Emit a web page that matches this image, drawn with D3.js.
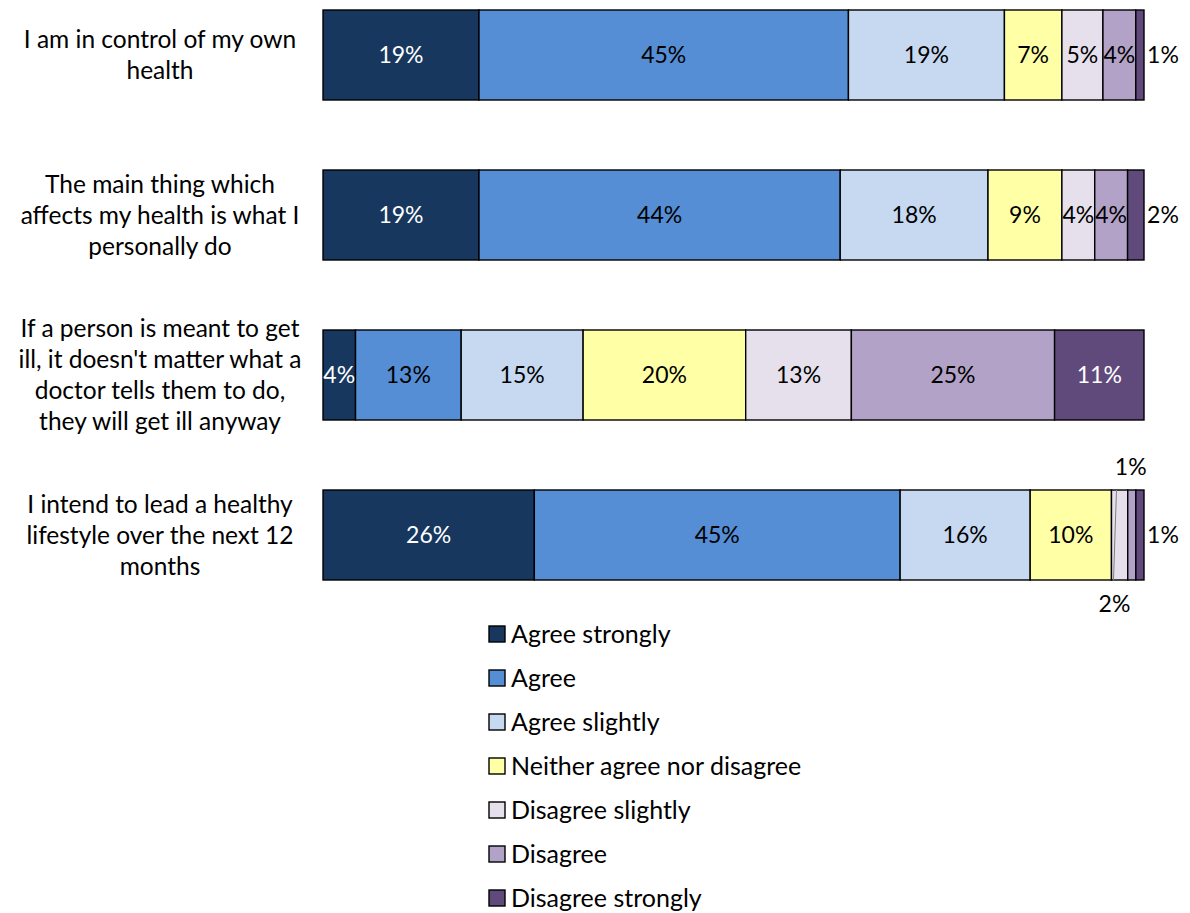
<!DOCTYPE html>
<html>
<head>
<meta charset="utf-8">
<script src="https://cdn.jsdelivr.net/npm/d3@7"></script>
<style>
  html, body { margin: 0; padding: 0; background: #fff; }
  svg { display: block; font-family: Lato, "Open Sans", sans-serif; }
</style>
</head>
<body>
<svg id="chart" width="1190" height="913"></svg>
<script>
// Survey statements (one horizontal bar each)
const statements = [
  ["I am in control of my own", "health"],
  ["The main thing which", "affects my health is what I", "personally do"],
  ["If a person is meant to get", "ill, it doesn't matter what a", "doctor tells them to do,", "they will get ill anyway"],
  ["I intend to lead a healthy", "lifestyle over the next 12", "months"]
];

// Response categories, in stacking order
const responses = ["Agree strongly", "Agree", "Agree slightly", "Neither agree nor disagree",
                   "Disagree slightly", "Disagree", "Disagree strongly"];
const responseColors = ["#17375E", "#558ED5", "#C6D9F1", "#FFFFA6", "#E6E0EC", "#B3A2C7", "#604A7B"];
const whiteText = ["Agree strongly", "Disagree strongly"];

// Percentages per statement, one value per response category
const controlOwnHealth   = [19, 45, 19, 7, 5, 4, 1];
const whatIPersonallyDo  = [19, 44, 18, 9, 4, 4, 2];
const meantToGetIll      = [4, 13, 15, 20, 13, 25, 11];
const healthyLifestyle   = [26, 45, 16, 10, 2, 1, 1];
const rows = [controlOwnHealth, whatIPersonallyDo, meantToGetIll, healthyLifestyle];

const svg = d3.select("#chart");
const plot = { left: 323, right: 1144, top: 10, step: 160, barH: 90 };

// 100% stacked: each row is scaled to its own total
const x = d3.scaleLinear().domain([0, 100]).range([plot.left, plot.right]);
const y = d3.scaleBand().domain(d3.range(rows.length))
  .range([plot.top, plot.top + plot.step * (rows.length - 1) + plot.barH])
  .paddingInner((plot.step - plot.barH) / plot.step).paddingOuter(0);

rows.forEach((vals, i) => {
  const total = d3.sum(vals);
  let cum = 0;
  const segs = vals.map((v, k) => {
    const s = { k, v, x0: cum / total * 100, x1: (cum + v) / total * 100 };
    cum += v;
    return s;
  });
  const g = svg.append("g");
  const y0 = y(i), h = y.bandwidth();

  g.selectAll("rect").data(segs).join("rect")
    .attr("x", d => x(d.x0))
    .attr("y", y0)
    .attr("width", d => x(d.x1) - x(d.x0))
    .attr("height", h)
    .attr("fill", d => responseColors[d.k])
    .attr("stroke", "#000")
    .attr("stroke-width", 1.4);

  // value labels
  segs.forEach(d => {
    const name = responses[d.k];
    let lx = (x(d.x0) + x(d.x1)) / 2, ly = y0 + h / 2;
    let color = whiteText.includes(name) ? "#fff" : "#000";
    const narrow = (x(d.x1) - x(d.x0)) < 20;
    if (narrow) {
      color = "#000";
      if (d.k === 6) { lx = x(100) + 19; }
      else if (d.k === 5) { ly = y0 - 23; lx = x(d.x0) + 3; }
      else if (d.k === 4) { ly = y0 + h + 24; lx = x(d.x0) + 3; }
    }
    g.append("text")
      .attr("x", lx).attr("y", ly)
      .attr("dy", "0.35em")
      .attr("text-anchor", "middle")
      .attr("font-size", 23)
      .attr("fill", color)
      .text(d.v + "%");
    if (narrow && d.k === 4) {
      // leader line for the label placed below the bar
      g.append("line")
        .attr("x1", x(d.x0) + 2).attr("y1", y0 + h)
        .attr("x2", x(d.x0) + 5).attr("y2", y0)
        .attr("stroke", "#808080").attr("stroke-width", 1);
    }
  });

  // statement label, centred on the bar
  const lh = 31;
  const lines = statements[i];
  const cy = y0 + h / 2;
  svg.append("text")
    .attr("text-anchor", "middle")
    .attr("font-size", 24.5)
    .attr("fill", "#000")
    .selectAll("tspan").data(lines).join("tspan")
    .attr("x", 160)
    .attr("y", (d, j) => cy + (j - (lines.length - 1) / 2) * lh)
    .attr("dy", "0.35em")
    .text(d => d);
});

// legend
const legend = svg.append("g").attr("transform", "translate(489,634)");
const item = legend.selectAll("g").data(responses).join("g")
  .attr("transform", (d, i) => `translate(0,${i * 44})`);
item.append("rect")
  .attr("x", 0).attr("y", -8).attr("width", 16).attr("height", 16)
  .attr("fill", (d, i) => responseColors[i])
  .attr("stroke", "#000").attr("stroke-width", 1.4);
item.append("text")
  .attr("x", 22).attr("y", 0).attr("dy", "0.35em")
  .attr("font-size", 25).attr("fill", "#000")
  .text(d => d);
</script>
</body>
</html>
